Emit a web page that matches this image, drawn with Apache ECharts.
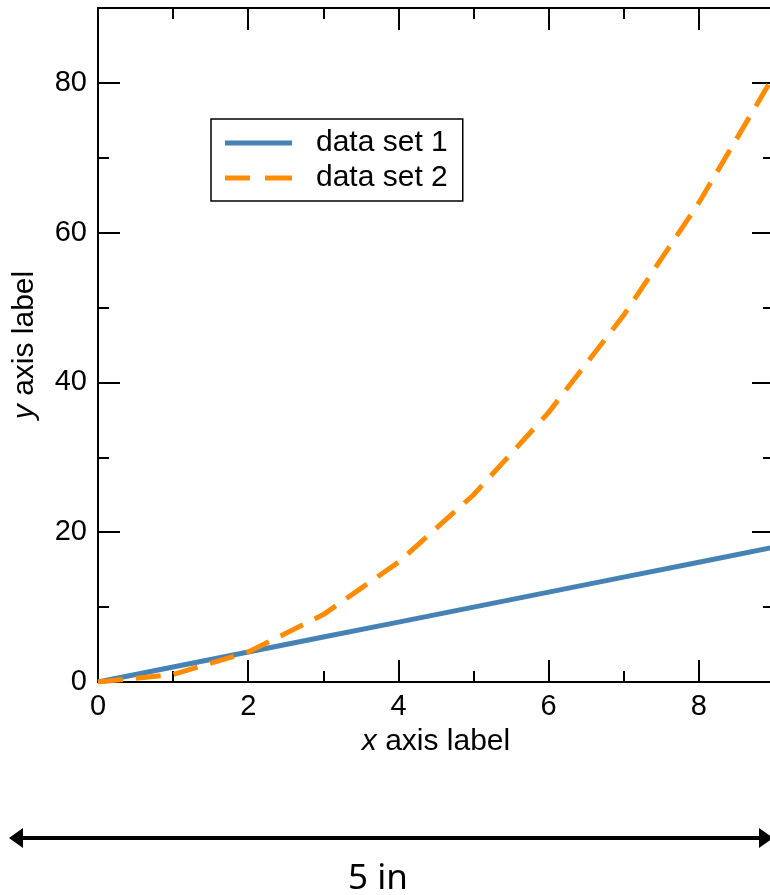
<!DOCTYPE html>
<html>
<head>
<meta charset="utf-8">
<script src="https://cdn.jsdelivr.net/npm/echarts@6/dist/echarts.min.js"></script>
<style>
html,body{margin:0;padding:0;background:#fff;}
#chart{width:770px;height:895px;}
</style>
</head>
<body>
<div id="chart"></div>
<script>
const xValues = [0, 1, 2, 3, 4, 5, 6, 7, 8, 9];
const set1Values = [0, 2, 4, 6, 8, 10, 12, 14, 16, 18];
const set2Values = [0, 1, 4, 9, 16, 25, 36, 49, 64, 81];
const seriesNames = ['data set 1', 'data set 2'];
const xAxisTitle = 'x';
const yAxisTitle = 'y';
const widthNote = '5 in';

const FONT = '"Liberation Sans", Arial, Helvetica, sans-serif';
const BLUE = '#4682b4';
const ORANGE = '#ff8c00';
const chart = echarts.init(document.getElementById('chart'), null, {renderer: 'canvas'});

function axisCommon(showLabels, position) {
  return {
    type: 'value',
    position: position,
    axisLine: {show: true, onZero: false, lineStyle: {color: '#000', width: 2}},
    axisTick: {show: true, inside: true, length: 22, lineStyle: {color: '#000', width: 2}},
    minorTick: {show: true, splitNumber: 2, length: 11, lineStyle: {color: '#000', width: 2}},
    splitLine: {show: false},
    minorSplitLine: {show: false},
    axisLabel: {show: showLabels, color: '#000', fontFamily: FONT, fontSize: 29, showMaxLabel: false}
  };
}

const xBottom = Object.assign(axisCommon(true, 'bottom'), {
  min: 0, max: 9, interval: 2,
  name: '{i|' + xAxisTitle + '} axis label',
  nameLocation: 'middle', nameGap: 45,
  nameTextStyle: {color: '#000', fontFamily: FONT, fontSize: 30,
    rich: {i: {fontStyle: 'italic', fontFamily: FONT, fontSize: 30, color: '#000'}}}
});
xBottom.axisLabel.margin = 10;
const xTop = Object.assign(axisCommon(false, 'top'), {min: 0, max: 9, interval: 2});

const yLeft = Object.assign(axisCommon(true, 'left'), {
  min: 0, max: 90, interval: 20,
  name: '{i|' + yAxisTitle + '} axis label',
  nameLocation: 'middle', nameGap: 58, nameRotate: 90,
  nameTextStyle: {color: '#000', fontFamily: FONT, fontSize: 30,
    rich: {i: {fontStyle: 'italic', fontFamily: FONT, fontSize: 30, color: '#000'}}}
});
yLeft.axisLabel.margin = 11;
const yRight = Object.assign(axisCommon(false, 'right'), {min: 0, max: 90, interval: 20});

const option = {
  backgroundColor: '#fff',
  animation: false,
  grid: {left: 98, top: 8, width: 676, height: 674, outerBoundsMode: 'none', containLabel: false},
  xAxis: [xBottom, xTop],
  yAxis: [yLeft, yRight],
  legend: {
    orient: 'vertical',
    left: 211, top: 119,
    backgroundColor: '#fff',
    borderColor: '#000', borderWidth: 1.5, borderRadius: 0,
    padding: [9, 15, 8, 14],
    itemWidth: 67, itemHeight: 5, itemGap: 5,
    textStyle: {color: '#000', fontFamily: FONT, fontSize: 30, lineHeight: 30, padding: [0, 0, 0, 19]},
    data: [
      {name: seriesNames[0], icon: 'path://M0,0H67V5H0Z', itemStyle: {color: BLUE}},
      {name: seriesNames[1], icon: 'path://M0,0H25V5H0Z M40,0H67V5H40Z', itemStyle: {color: ORANGE}}
    ]
  },
  series: [
    {
      name: seriesNames[0], type: 'line', xAxisIndex: 0, yAxisIndex: 0,
      data: xValues.map((x, i) => [x, set1Values[i]]),
      showSymbol: false, symbol: 'none',
      color: BLUE,
      lineStyle: {color: BLUE, width: 5, cap: 'butt'},
      z: 3
    },
    {
      name: seriesNames[1], type: 'line', xAxisIndex: 0, yAxisIndex: 0,
      data: xValues.map((x, i) => [x, set2Values[i]]),
      showSymbol: false, symbol: 'none',
      color: ORANGE,
      lineStyle: {color: ORANGE, width: 5, type: [25, 13], cap: 'butt'},
      z: 4
    }
  ],
  graphic: [
    {type: 'line', shape: {x1: 18, y1: 838, x2: 762, y2: 838}, style: {stroke: '#000', lineWidth: 4}},
    {type: 'polygon', shape: {points: [[9, 838], [23, 828], [23, 848]]}, style: {fill: '#000'}},
    {type: 'polygon', shape: {points: [[773, 838], [759, 828], [759, 848]]}, style: {fill: '#000'}},
    {type: 'text', x: 378, y: 879, style: {text: widthNote, fontFamily: '"Noto Sans", sans-serif', fontSize: 35, fill: '#000', align: 'center', verticalAlign: 'middle'}}
  ]
};
chart.setOption(option);
</script>
</body>
</html>
